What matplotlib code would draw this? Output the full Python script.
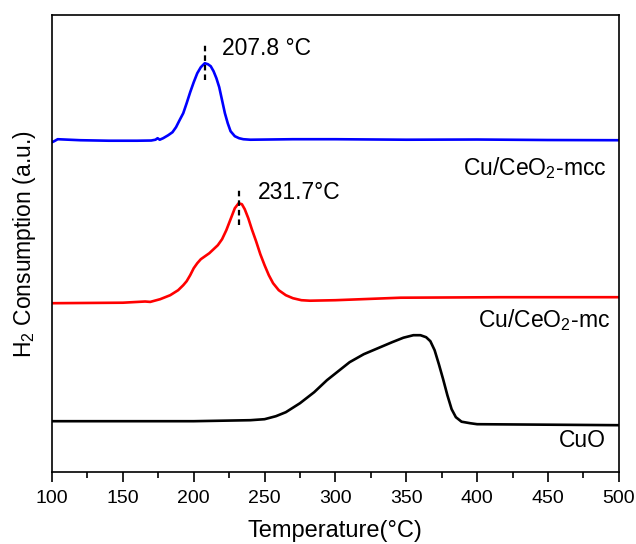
import matplotlib.pyplot as plt
from matplotlib.ticker import MultipleLocator

plt.rcParams['font.family'] = ['Liberation Sans', 'DejaVu Sans']
plt.rcParams['mathtext.fontset'] = 'custom'
plt.rcParams['mathtext.rm'] = 'Liberation Sans'
plt.rcParams['mathtext.default'] = 'regular'

# Cu/CeO2-mcc (blue)
t_mcc = [100, 101.5, 104, 120, 140, 160, 170, 173, 174.5, 176, 178.4, 182, 185,
         187.5, 190, 192.6, 195, 197.5, 200, 202.5, 205, 207.8, 210, 212, 214,
         216, 218, 220, 222, 224, 226, 229, 232, 235, 240, 270, 300, 350, 400,
         450, 500]
h_mcc = [3.30, 3.31, 3.33, 3.32, 3.315, 3.315, 3.317, 3.325, 3.34, 3.325, 3.34,
         3.37, 3.40, 3.45, 3.52, 3.59, 3.69, 3.80, 3.90, 3.99, 4.05, 4.09, 4.08,
         4.06, 4.01, 3.94, 3.85, 3.72, 3.59, 3.49, 3.41, 3.36, 3.34, 3.33, 3.325,
         3.33, 3.33, 3.325, 3.327, 3.322, 3.32]

# Cu/CeO2-mc (red)
t_mc = [100, 150, 165.7, 169.3, 176.3, 183.4, 189, 192.6, 195, 197.5, 200,
        202.5, 205, 208, 211, 214, 217, 220, 223, 226, 229, 231.7, 234, 236,
        238.5, 241, 244, 247, 250, 253, 256, 260, 265, 270, 276, 282, 300, 346,
        416.6, 500]
h_mc = [1.69, 1.695, 1.707, 1.703, 1.73, 1.77, 1.82, 1.87, 1.91, 1.97, 2.04,
        2.09, 2.13, 2.16, 2.19, 2.23, 2.27, 2.33, 2.42, 2.53, 2.64, 2.69, 2.68,
        2.63, 2.54, 2.43, 2.31, 2.18, 2.07, 1.97, 1.89, 1.82, 1.77, 1.74, 1.72,
        1.715, 1.72, 1.745, 1.75, 1.75]

# CuO (black)
t_cuo = [100, 200, 240, 250, 258, 265, 275, 285, 294, 302, 310, 320, 330, 340,
         348, 355, 360, 364, 367, 370, 373, 376, 379, 382, 385, 389, 395, 400,
         450, 500]
h_cuo = [0.51, 0.51, 0.52, 0.53, 0.56, 0.60, 0.69, 0.80, 0.92, 1.01, 1.10, 1.18,
         1.24, 1.30, 1.345, 1.37, 1.37, 1.35, 1.31, 1.22, 1.08, 0.93, 0.77, 0.63,
         0.55, 0.505, 0.49, 0.48, 0.475, 0.47]

peak_t = [207.8, 231.7]
peak_labels = ['207.8 °C', '231.7°C']

fig = plt.figure(figsize=(6.36, 5.44), dpi=100)
ax = fig.add_axes([0.0818, 0.132, 0.8912, 0.840])

ax.plot(t_mcc, h_mcc, color='#0000ff', lw=1.9)
ax.plot(t_mc, h_mc, color='#ff0000', lw=1.9)
ax.plot(t_cuo, h_cuo, color='black', lw=1.9)

# peak markers
ax.plot([peak_t[0], peak_t[0]], [3.92, 4.29], color='black', ls=(0, (2.5, 1.8)), lw=1.6)
ax.plot([peak_t[1], peak_t[1]], [2.47, 2.84], color='black', ls=(0, (2.5, 1.8)), lw=1.6)
ax.text(220, 4.24, peak_labels[0], fontsize=16.5, va='center', ha='left')
ax.text(245, 2.80, peak_labels[1], fontsize=16.5, va='center', ha='left')

ax.text(491, 3.04, 'Cu/CeO$_2$-mcc', fontsize=16.5, va='center', ha='right')
ax.text(494, 1.52, 'Cu/CeO$_2$-mc', fontsize=16.5, va='center', ha='right')
ax.text(491, 0.32, 'CuO', fontsize=16.5, va='center', ha='right')

ax.set_xlim(100, 500)
ax.set_ylim(0, 4.57)
ax.xaxis.set_major_locator(MultipleLocator(50))
ax.xaxis.set_minor_locator(MultipleLocator(25))
ax.set_yticks([])
ax.tick_params(axis='x', which='major', direction='out', length=7, width=1.2,
               labelsize=14, pad=6)
ax.tick_params(axis='x', which='minor', direction='out', length=4, width=1.2)
for s in ax.spines.values():
    s.set_linewidth(1.2)

ax.set_xlabel('Temperature(°C)', fontsize=17, labelpad=9)
ax.set_ylabel('H$_2$ Consumption (a.u.)', fontsize=16.5, labelpad=10)

fig.savefig('out.png', dpi=100)
